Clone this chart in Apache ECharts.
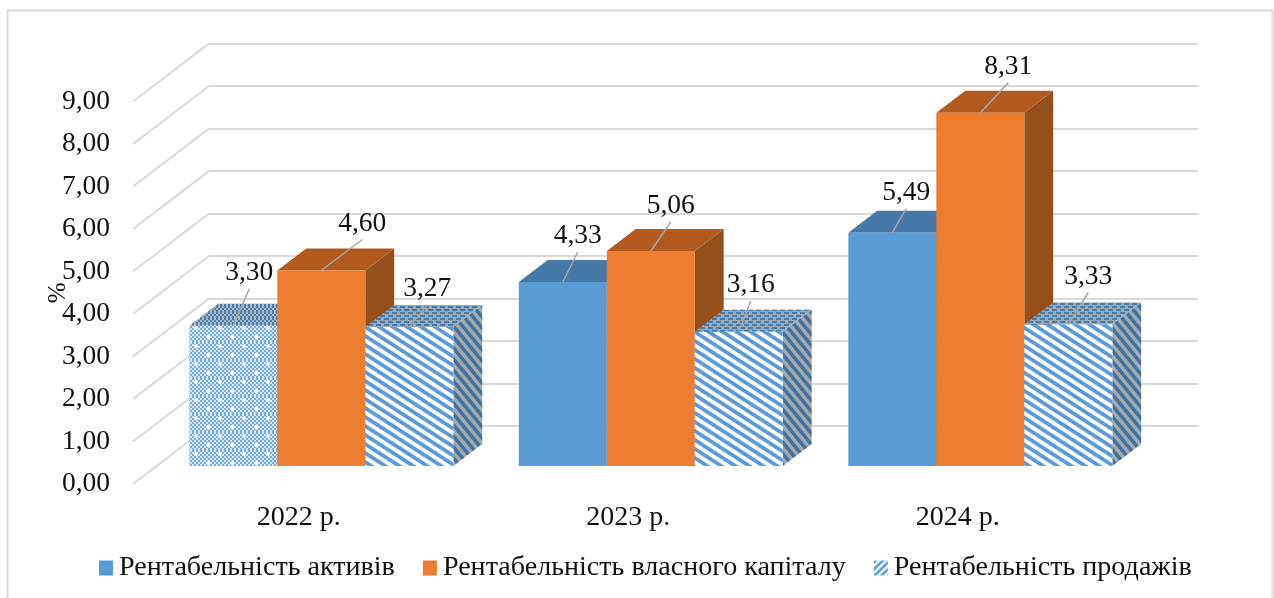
<!DOCTYPE html>
<html><head><meta charset="utf-8">
<style>html,body{margin:0;padding:0;background:#fff}#c{width:1274px;height:598px}</style>
<script src="https://cdn.jsdelivr.net/npm/echarts@6/dist/echarts.min.js"></script>
</head><body><div id="c"></div>
<script>
const categories = ['2022 р.', '2023 р.', '2024 р.'];
const assetsName = 'Рентабельність активів';
const equityName = 'Рентабельність власного капіталу';
const salesName = 'Рентабельність продажів';
const assets = [3.30, 4.33, 5.49];
const equity = [4.60, 5.06, 8.31];
const sales = [3.27, 3.16, 3.33];
const yMin = 0, yMax = 9, yStep = 1;
const wallTicks = [0, 1, 2, 3, 4, 5, 6, 7, 8, 9];

const FONT = '"Liberation Serif","Times New Roman",serif';
const DEPTH_X = 76, DEPTH_Y = -58;       // full floor depth in pixels
const BAR_D0 = 0.31, BAR_D1 = 0.69;      // bar depth range along the floor
const BAR_W = 88;                        // bar width
const GRID_COLOR = '#d9d9d9';

// ---- pattern tiles ----
function tile(w, h, draw) {
  const c = document.createElement('canvas'); c.width = w; c.height = h;
  draw(c.getContext('2d'), w, h);
  return { image: c, repeat: 'repeat' };
}
function stripes(w, h, bg, fg, dirDown, frac) {
  return tile(w, h, (g) => {
    g.fillStyle = bg; g.fillRect(0, 0, w, h);
    g.fillStyle = fg;
    const t = h * frac;
    for (let k = -2; k <= 2; k++) {
      const o = k * h;
      g.beginPath();
      if (dirDown) {
        g.moveTo(0, o); g.lineTo(w, o + h); g.lineTo(w, o + h + t); g.lineTo(0, o + t);
      } else {
        g.moveTo(0, o + h); g.lineTo(w, o); g.lineTo(w, o + t); g.lineTo(0, o + h + t);
      }
      g.closePath(); g.fill();
    }
  });
}
function checker(w, h, a, b, dots, cell) {
  return tile(w, h, (g) => {
    for (let y = 0; y < h; y += cell) for (let x = 0; x < w; x += cell) {
      g.fillStyle = ((x / cell + y / cell) % 2 === 0) ? a : b;
      g.fillRect(x, y, cell, cell);
    }
    g.fillStyle = '#ffffff';
    dots.forEach(d => { g.fillRect(d[0] - 2, d[1] - 1, 4, 2); g.fillRect(d[0] - 1, d[1] - 2, 2, 4); });
  });
}
const patDots = checker(24, 18, '#78ace0', '#d6e6f5', [[4, 4], [16, 13]], 2);
const patDotsTop = checker(8, 6, '#4a7dab', '#a9b8c6', [], 2);
const patStripe = stripes(14, 9, '#ffffff', '#5b9bd5', true, 0.5);
const patStripeTop = tile(8, 6, (g) => {
  g.fillStyle = '#98a9ba'; g.fillRect(0, 0, 8, 6);
  g.fillStyle = '#457aa9'; g.fillRect(0, 0, 5, 2); g.fillRect(4, 3, 4, 2); g.fillRect(0, 3, 1, 2);
});
const patStripeSide = stripes(9, 11, '#a1a9b1', '#41719c', true, 0.5);
const patLegend = stripes(7, 7, '#ffffff', '#5b9bd5', false, 0.55);

// ---- face styles for each bar ----
const solidBlue = { front: '#5b9bd5', top: '#4679a8', side: '#36608a' };
const solidOrange = { front: '#ed7d31', top: '#b35b1f', side: '#954f1b' };
const dotted = { front: patDots, top: patDotsTop, side: patDotsTop };
const striped = { front: patStripe, top: patStripeTop, side: patStripeSide };

// leader-line end relative to the middle of the bar's top front edge
const labelOffsets = {
  a: [[16, -37], [15, -30], [14, -24]],
  e: [[41, -31], [20, -29], [28, -30]],
  s: [[18, -22], [12, -31], [20, -32]]
};

function fmt(v) { return v.toFixed(2).replace('.', ','); }

function barSeries(name, values, barOffset, faces, z, legendColor) {
  return {
    name, type: 'custom', coordinateSystem: 'cartesian2d', xAxisIndex: 0, yAxisIndex: 0, z,
    clip: false, silent: true,
    itemStyle: { color: legendColor },
    data: values.map((v, i) => [i, v]),
    encode: { x: 0, y: 1 },
    renderItem(params, api) {
      const i = api.value(0), v = api.value(1);
      const top = api.coord([i, v]), base = api.coord([i, 0]);
      const f = faces(i);
      const dx0 = DEPTH_X * BAR_D0, dy0 = DEPTH_Y * BAR_D0;
      const ddx = DEPTH_X * (BAR_D1 - BAR_D0), ddy = DEPTH_Y * (BAR_D1 - BAR_D0);
      const xl = top[0] + dx0 + barOffset * BAR_W - BAR_W / 2;
      const xr = xl + BAR_W;
      const yt = top[1] + dy0, yb = base[1] + dy0;
      const poly = (pts, fill) => ({ type: 'polygon', shape: { points: pts }, style: { fill } });
      return {
        type: 'group',
        children: [
          poly([[xr, yt], [xr + ddx, yt + ddy], [xr + ddx, yb + ddy], [xr, yb]], f.side),
          poly([[xl, yt], [xr, yt], [xr + ddx, yt + ddy], [xl + ddx, yt + ddy]], f.top),
          poly([[xl, yt], [xr, yt], [xr, yb], [xl, yb]], f.front)
        ]
      };
    }
  };
}

// leader lines and value texts go above every bar
function labelSeries(values, barOffset, offsets) {
  return {
    type: 'custom', coordinateSystem: 'cartesian2d', xAxisIndex: 0, yAxisIndex: 0, z: 10,
    clip: false, silent: true,
    data: values.map((v, i) => [i, v]),
    encode: { x: 0, y: 1 },
    renderItem(params, api) {
      const i = api.value(0), v = api.value(1);
      const top = api.coord([i, v]);
      const ax = top[0] + DEPTH_X * BAR_D0 + barOffset * BAR_W;
      const ay = top[1] + DEPTH_Y * BAR_D0;
      const o = offsets[i];
      const lx = ax + o[0], ly = ay + o[1];
      return {
        type: 'group',
        children: [
          { type: 'line', shape: { x1: ax, y1: ay, x2: lx, y2: ly },
            style: { stroke: '#a6a6a6', lineWidth: 1.5 } },
          { type: 'text', x: lx, y: ly - 2,
            style: { text: fmt(v), fill: '#111', font: '27.5px ' + FONT, align: 'center', verticalAlign: 'bottom' } }
        ]
      };
    }
  };
}

const option = {
  animation: false,
  backgroundColor: '#ffffff',
  graphic: [{
    type: 'polyline', silent: true,
    shape: { points: [[7.5, 598], [7.5, 10.5], [1272.5, 10.5], [1272.5, 598]] },
    style: { stroke: GRID_COLOR, lineWidth: 2, fill: null }
  }],
  grid: [
    { left: 133, top: 101.5, width: 988.5, height: 382.5 },
    { left: 209, top: 43.5, width: 989, height: 382.5 }
  ],
  xAxis: [
    { type: 'category', gridIndex: 0, data: categories,
      axisLine: { show: false }, axisTick: { show: false }, splitLine: { show: false },
      axisLabel: { color: '#111', fontFamily: FONT, fontSize: 28, margin: 20, padding: [0, 0, 0, 2] } },
    { type: 'category', gridIndex: 1, data: categories, show: false }
  ],
  yAxis: [
    { type: 'value', gridIndex: 0, min: yMin, max: yMax, interval: yStep,
      name: '%', nameLocation: 'middle', nameRotate: 90, nameGap: 62, nameMoveOverlap: false,
      nameTextStyle: { color: '#111', fontFamily: FONT, fontSize: 25 },
      axisLine: { show: false }, axisTick: { show: false }, splitLine: { show: false },
      axisLabel: { color: '#111', fontFamily: FONT, fontSize: 27.5, margin: 23, formatter: fmt } },
    { type: 'value', gridIndex: 1, min: yMin, max: yMax, interval: yStep,
      axisLine: { show: false }, axisTick: { show: false }, axisLabel: { show: false },
      splitLine: { show: true, lineStyle: { color: GRID_COLOR, width: 2 } } }
  ],
  legend: {
    left: 99, top: 554, padding: 0, itemWidth: 14, itemHeight: 15, itemGap: 28,
    icon: 'rect', selectedMode: false,
    data: [assetsName, equityName, salesName],
    textStyle: { color: '#111', fontFamily: FONT, fontSize: 28.1, padding: [0, 0, 0, 1] }
  },
  series: [
    { name: 'wall', type: 'custom', coordinateSystem: 'cartesian2d', xAxisIndex: 0, yAxisIndex: 0, z: 1,
      silent: true, clip: false,
      data: wallTicks.map(t => [0, t]),
      encode: { y: 1 },
      renderItem(params, api) {
        const x0 = params.coordSys.x;
        const y = api.coord([0, api.value(1)])[1];
        return { type: 'line', shape: { x1: x0, y1: y, x2: x0 + DEPTH_X, y2: y + DEPTH_Y },
          style: { stroke: GRID_COLOR, lineWidth: 2 } };
      } },
    barSeries(assetsName, assets, -1, i => i === 0 ? dotted : solidBlue, 3, solidBlue.front),
    barSeries(equityName, equity, 0, () => solidOrange, 4, solidOrange.front),
    barSeries(salesName, sales, 1, () => striped, 5, patLegend),
    labelSeries(assets, -1, labelOffsets.a),
    labelSeries(equity, 0, labelOffsets.e),
    labelSeries(sales, 1, labelOffsets.s)
  ]
};
const chart = echarts.init(document.getElementById('c'), null, { renderer: 'canvas' });
chart.setOption(option);
</script></body></html>
